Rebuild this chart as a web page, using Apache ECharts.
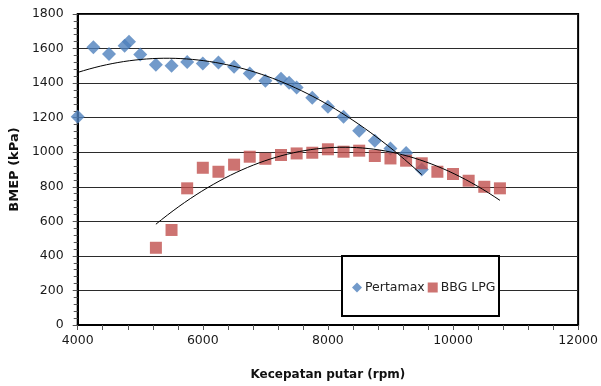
<!DOCTYPE html>
<html>
<head>
<meta charset="utf-8">
<script src="https://cdn.jsdelivr.net/npm/echarts@6/dist/echarts.min.js"></script>
<style>
html,body{margin:0;padding:0;background:#fff}
#chart{width:601px;height:386px}
</style>
</head>
<body>
<div id="chart"></div>
<script>
// data
var rpmPertamax=[4000,4250,4500,4750,4820,5000,5250,5500,5750,6000,6250,6500,6750,7000,7250,7380,7500,7750,8000,8250,8500,8750,9000,9250,9500];
var bmepPertamax=[1205,1607,1568,1616,1640,1566,1506,1501,1522,1514,1520,1495,1456,1414,1425,1402,1375,1315,1263,1206,1125,1067,1022,995,900];
var rpmLpg=[5250,5500,5750,6000,6250,6500,6750,7000,7250,7500,7750,8000,8250,8500,8750,9000,9250,9500,9750,10000,10250,10500,10750];
var bmepLpg=[447,550,791,910,887,928,974,962,984,993,997,1017,1003,1009,978,964,951,936,887,874,835,800,791];
var xMin=4000,xMax=12000,xStep=2000;
var yMin=0,yMax=1800,yStep=200;

function zip(xs,ys){
	var out=[];
	for(var i=0;i<xs.length;i++) out.push([xs[i],ys[i]]);
	return out;
}

// polynomial trendline, order 2, least squares (like excel)
function trend2(xs,ys){
	var s=[0,0,0,0,0],t=[0,0,0];
	for(var i=0;i<xs.length;i++){
		var x=xs[i]/1000,p=1;
		for(var k=0;k<5;k++){s[k]+=p;if(k<3)t[k]+=ys[i]*p;p*=x;}
	}
	var m=[[s[0],s[1],s[2],t[0]],[s[1],s[2],s[3],t[1]],[s[2],s[3],s[4],t[2]]];
	for(var c=0;c<3;c++){
		for(var r=c+1;r<3;r++){
			var f=m[r][c]/m[c][c];
			for(var j=c;j<4;j++) m[r][j]-=f*m[c][j];
		}
	}
	var co=[0,0,0];
	for(var r2=2;r2>=0;r2--){
		var v=m[r2][3];
		for(var j2=r2+1;j2<3;j2++) v-=m[r2][j2]*co[j2];
		co[r2]=v/m[r2][r2];
	}
	var a=Math.min.apply(null,xs),b=Math.max.apply(null,xs),pts=[];
	for(var n=0;n<=60;n++){
		var xx=a+(b-a)*n/60,q=xx/1000;
		pts.push([xx,co[0]+co[1]*q+co[2]*q*q]);
	}
	return pts;
}

var chart=echarts.init(document.getElementById('chart'));
var font='DejaVu Sans';
function plain(v){return String(v);}
option={
	animation:false,
	grid:{
		left:77,
		right:20,
		top:14,
		bottom:61,
		show:true,
		borderColor:'#000',
		borderWidth:2
	},
	legend:{
		data:[
			{name:'Pertamax',icon:'diamond'},
			{name:'BBG LPG',icon:'rect'}
		],
		left:347,
		top:276,
		itemWidth:10,
		itemHeight:10,
		itemGap:3,
		z:10,
		textStyle:{color:'#222',fontFamily:font,fontSize:12.5,padding:[0,0,0,-2]}
	},
	graphic:[{
		type:'rect',
		z:5,
		shape:{x:342,y:256,width:157,height:60},
		style:{fill:'#fff',stroke:'#000',lineWidth:2}
	}],
	xAxis:{
		type:'value',
		min:xMin,
		max:xMax,
		interval:xStep,
		name:'Kecepatan putar (rpm)',
		nameLocation:'middle',
		nameGap:44,
		nameTextStyle:{color:'#111',fontFamily:font,fontSize:12,fontWeight:'bold'},
		axisLine:{lineStyle:{color:'#000',width:2}},
		axisTick:{length:5,lineStyle:{color:'#555'}},
		minorTick:{show:true,splitNumber:5,length:5,lineStyle:{color:'#555'}},
		axisLabel:{color:'#1a1a1a',fontFamily:font,fontSize:12.5,margin:9,formatter:plain},
		splitLine:{show:false}
	},
	yAxis:{
		type:'value',
		min:yMin,
		max:yMax,
		interval:yStep,
		name:'BMEP (kPa)',
		nameLocation:'middle',
		nameGap:56,
		nameTextStyle:{color:'#111',fontFamily:font,fontSize:13,fontWeight:'bold'},
		axisLine:{show:true,lineStyle:{color:'#000',width:2}},
		axisTick:{length:5,lineStyle:{color:'#555'}},
		minorTick:{show:true,splitNumber:5,length:4,lineStyle:{color:'#555'}},
		axisLabel:{color:'#1a1a1a',fontFamily:font,fontSize:12.5,margin:14,formatter:plain},
		splitLine:{lineStyle:{color:'#2b2b2b',width:1}}
	},
	series:[
		{
			name:'Pertamax',
			type:'scatter',
			symbol:'diamond',
			symbolSize:14,
			data:zip(rpmPertamax,bmepPertamax),
			itemStyle:{color:'#4F81BD'},
			z:2
		},
		{
			name:'BBG LPG',
			type:'scatter',
			symbol:'rect',
			symbolSize:12,
			data:zip(rpmLpg,bmepLpg),
			itemStyle:{color:'#C0504D'},
			z:3
		},
		{
			name:'trend Pertamax',
			type:'line',
			showSymbol:false,
			silent:true,
			data:trend2(rpmPertamax,bmepPertamax),
			lineStyle:{color:'#000',width:1},
			z:4
		},
		{
			name:'trend LPG',
			type:'line',
			showSymbol:false,
			silent:true,
			data:trend2(rpmLpg,bmepLpg),
			lineStyle:{color:'#000',width:1},
			z:4
		}
	]
};
chart.setOption(option);
</script>
</body>
</html>
